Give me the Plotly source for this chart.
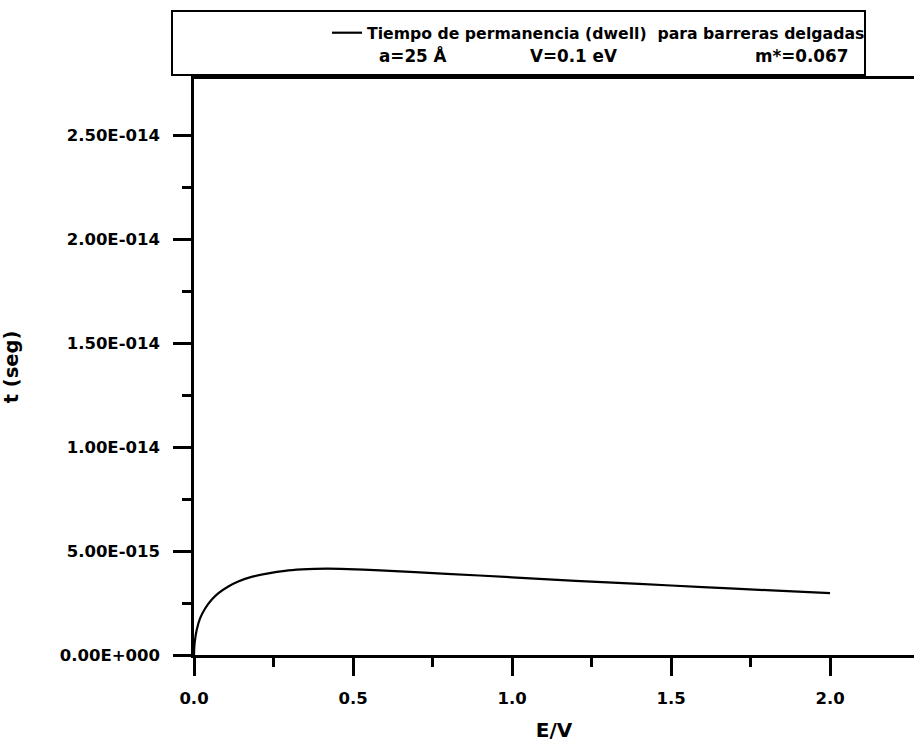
import plotly.graph_objects as go

# Data
e_over_v = [0.0, 0.001, 0.003, 0.0085, 0.019, 0.035, 0.056, 0.077, 0.108, 0.139,
            0.181, 0.234, 0.286, 0.339, 0.38, 0.42, 0.46, 0.585, 0.795, 1.0, 1.2,
            1.4, 1.6, 1.8, 2.0]
dwell_e15 = [0.0, 0.40, 0.70, 1.20, 1.76, 2.24, 2.67, 2.98, 3.30, 3.54,
             3.76, 3.93, 4.05, 4.12, 4.15, 4.16, 4.15, 4.07, 3.91, 3.74, 3.57,
             3.42, 3.27, 3.12, 2.98]
dwell_sec = [v * 1e-15 for v in dwell_e15]

series_name = "Tiempo de permanencia (dwell)&nbsp; para barreras delgadas"
param_labels = ["a=25 Å", "V=0.1 eV", "m*=0.067"]

x_tickvals = [0.0, 0.5, 1.0, 1.5, 2.0]
x_ticktext = ["0.0", "0.5", "1.0", "1.5", "2.0"]
x_minorvals = [0.25, 0.75, 1.25, 1.75]
y_tickvals = [0.0, 5e-15, 1e-14, 1.5e-14, 2e-14, 2.5e-14]
y_ticktext = ["0.00E+000", "5.00E-015", "1.00E-014", "1.50E-014", "2.00E-014", "2.50E-014"]
y_minorvals = [2.5e-15, 7.5e-15, 1.25e-14, 1.75e-14, 2.25e-14]

FONT = "DejaVu Sans, Liberation Sans, Arial, sans-serif"

fig = go.Figure()
fig.add_trace(go.Scatter(
    x=e_over_v, y=dwell_sec, mode="lines", name=series_name,
    line=dict(color="black", width=2.2, shape="spline", smoothing=0.8),
    showlegend=True,
))

W, H = 914, 743
L, R, T, B = 194, 0, 79, 88
pw, ph = W - L - R, H - T - B

def px(xp):
    return (xp - L) / pw

def py(yp):
    return (H - B - yp) / ph

fig.update_layout(
    width=W, height=H,
    margin=dict(l=L, r=R, t=T, b=B, autoexpand=False),
    paper_bgcolor="white", plot_bgcolor="white",
    font=dict(family=FONT, color="black", size=16, weight="bold"),
    legend=dict(
        x=px(327), y=py(33), xanchor="left", yanchor="middle",
        bgcolor="rgba(0,0,0,0)", borderwidth=0,
        font=dict(family=FONT, size=15.7, color="black", weight="bold"),
    ),
    xaxis=dict(
        range=[0, 2.264], showgrid=False, zeroline=False,
        showline=True, linecolor="black", linewidth=2.5, mirror=True,
        ticks="outside", ticklen=18, tickwidth=2.5, tickcolor="black",
        tickvals=x_tickvals, ticktext=x_ticktext,
        tickfont=dict(family=FONT, size=16.5, weight="bold"),
        ticklabelstandoff=8,
        minor=dict(tickvals=x_minorvals, ticks="outside", ticklen=9, tickwidth=2.5, tickcolor="black"),
        title=dict(text="E/V", font=dict(family=FONT, size=20, weight="bold"), standoff=17),
    ),
    yaxis=dict(
        range=[0, 2.773e-14], showgrid=False, zeroline=False,
        showline=True, linecolor="black", linewidth=2.5, mirror=False,
        ticks="outside", ticklen=18, tickwidth=2.5, tickcolor="black",
        tickvals=y_tickvals, ticktext=y_ticktext,
        tickfont=dict(family=FONT, size=16.5, weight="bold"),
        ticklabelstandoff=10,
        minor=dict(tickvals=y_minorvals, ticks="outside", ticklen=9, tickwidth=2.5, tickcolor="black"),
        title=dict(text="t (seg)", font=dict(family=FONT, size=19.5, weight="bold"), standoff=45),
    ),
)

# legend frame
fig.add_shape(type="rect", xref="paper", yref="paper",
              x0=px(172), x1=px(865), y0=py(75), y1=py(11),
              line=dict(color="black", width=2), fillcolor="rgba(0,0,0,0)", layer="above")

# second legend line: parameters
param_x = [377, 528, 753]
for lab, xx in zip(param_labels, param_x):
    fig.add_annotation(text=lab, xref="paper", yref="paper", x=px(xx), y=py(56),
                       xanchor="left", yanchor="middle", showarrow=False,
                       font=dict(family=FONT, size=16.8, color="black", weight="bold"))

fig.write_html("out.html")
